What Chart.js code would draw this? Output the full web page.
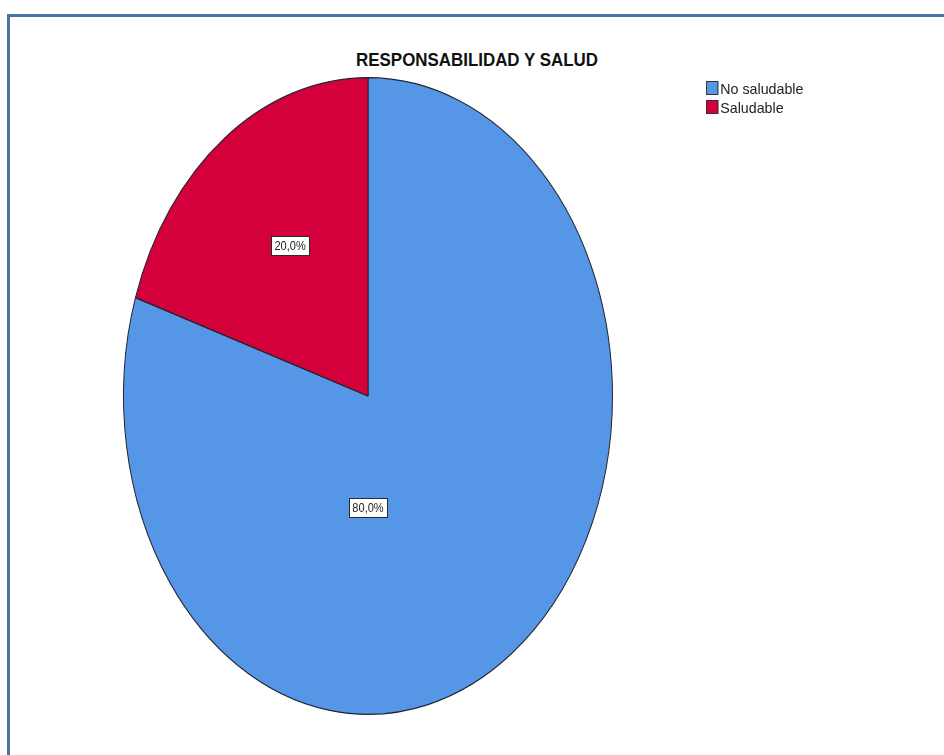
<!DOCTYPE html>
<html>
<head>
<meta charset="utf-8">
<script src="https://cdn.jsdelivr.net/npm/chart.js@4/dist/chart.umd.min.js"></script>
<style>
	body { margin:0; background:#fff; width:944px; height:755px; overflow:hidden; position:relative; font-family:"Liberation Sans Narrow","Arial Narrow","Liberation Sans",sans-serif; }
	#frame { position:absolute; left:7px; top:14px; width:1000px; height:800px; border-left:3px solid #4a74a5; border-top:3px solid #4a74a5; }
	#ctitle { position:absolute; left:277px; width:400px; top:49px; text-align:center; font-size:19px; font-weight:bold; color:#111; transform:scaleX(0.89); transform-origin:center; }
	#pie { position:absolute; left:0; top:0; }
	#plegend { position:absolute; left:706px; top:81px; font-size:15px; color:#222; transform:scaleX(0.95); transform-origin:left top; }
	#plegend div { height:19px; line-height:15px; white-space:nowrap; }
	#plegend span.box { display:inline-block; width:11px; height:12px; border:1px solid #333; vertical-align:-1px; margin-right:2px; }
</style>
</head>
<body>
<div id="frame"></div>
<div id="ctitle">RESPONSABILIDAD Y SALUD</div>
<canvas id="pie" width="944" height="755"></canvas>
<div id="plegend"></div>
<script>
	// datos
	var categorias	=	["No saludable", "Saludable"];
	var porcentajes	=	[80.0, 20.0];
	var colores		=	["#5596e6", "#d3003b"];

	var yStretch	=	1.302;
	// label placement: angle from top (deg, clockwise) and fraction of radius
	var labelPlace	=	[{ang:180, frac:0.35}, {ang:-34, frac:0.57}];

	var ellipsePlugin = {
		id: "ellipse",
		beforeDatasetsDraw: function(chart){
			var arc	=	chart.getDatasetMeta(0).data[0];
			var ctx	=	chart.ctx;
			ctx.save();
			ctx.translate(arc.x, arc.y);
			ctx.scale(1, yStretch);
			ctx.translate(-arc.x, -arc.y);
		},
		afterDatasetsDraw: function(chart){
			var ctx	=	chart.ctx;
			ctx.restore();
			var meta	=	chart.getDatasetMeta(0);
			ctx.save();
			ctx.font	=	'13px "Liberation Sans Narrow","Arial Narrow","Liberation Sans",sans-serif';
			ctx.textAlign	=	"center";
			ctx.textBaseline	=	"middle";
			$each(meta.data, function(i, arc){
				var p	=	labelPlace[i];
				var a	=	p.ang * Math.PI / 180;
				var r	=	arc.outerRadius * p.frac;
				var x	=	arc.x + Math.sin(a) * r;
				var y	=	arc.y - Math.cos(a) * r * yStretch;
				var txt	=	porcentajes[i].toFixed(1).replace(".", ",") + "%";
				var w	=	38;
				var h	=	19;
				var bx	=	Math.round(x - w/2) + 0.5;
				var by	=	Math.round(y - h/2) + 0.5;
				ctx.fillStyle	=	"#fff";
				ctx.fillRect(bx, by, w, h);
				ctx.strokeStyle	=	"#2a2a2a";
				ctx.lineWidth	=	1;
				ctx.strokeRect(bx, by, w, h);
				ctx.fillStyle	=	"#222";
				ctx.save();
				ctx.translate(x, y + 1);
				ctx.scale(0.85, 1);
				ctx.fillText(txt, 0, 0);
				ctx.restore();
			});
			ctx.restore();
		}
	};

	function $each(arr, fn){
		for(var i = 0; i < arr.length; i++) fn(i, arr[i]);
	}

	var pieChart = new Chart(document.getElementById("pie").getContext("2d"), {
		type: "pie",
		data: {
			labels: categorias,
			datasets: [{
				data: porcentajes,
				backgroundColor: colores,
				borderColor: "#1e2430",
				borderWidth: 1,
				clip: false
			}]
		},
		options: {
			responsive: false,
			animation: false,
			layout: { padding: {left:123, right:331, top:77, bottom:40} },
			plugins: {
				legend: { display: false },
				title: { display: false },
				tooltip: { enabled: false }
			}
		},
		plugins: [ellipsePlugin]
	});

	// html legend
	var legendHtml	=	"";
	$each(pieChart.data.labels, function(i, lbl){
		legendHtml	+=	'<div><span class="box" style="background:' + pieChart.data.datasets[0].backgroundColor[i] + '"></span>' + lbl + '</div>';
	});
	document.getElementById("plegend").innerHTML	=	legendHtml;
</script>
</body>
</html>
